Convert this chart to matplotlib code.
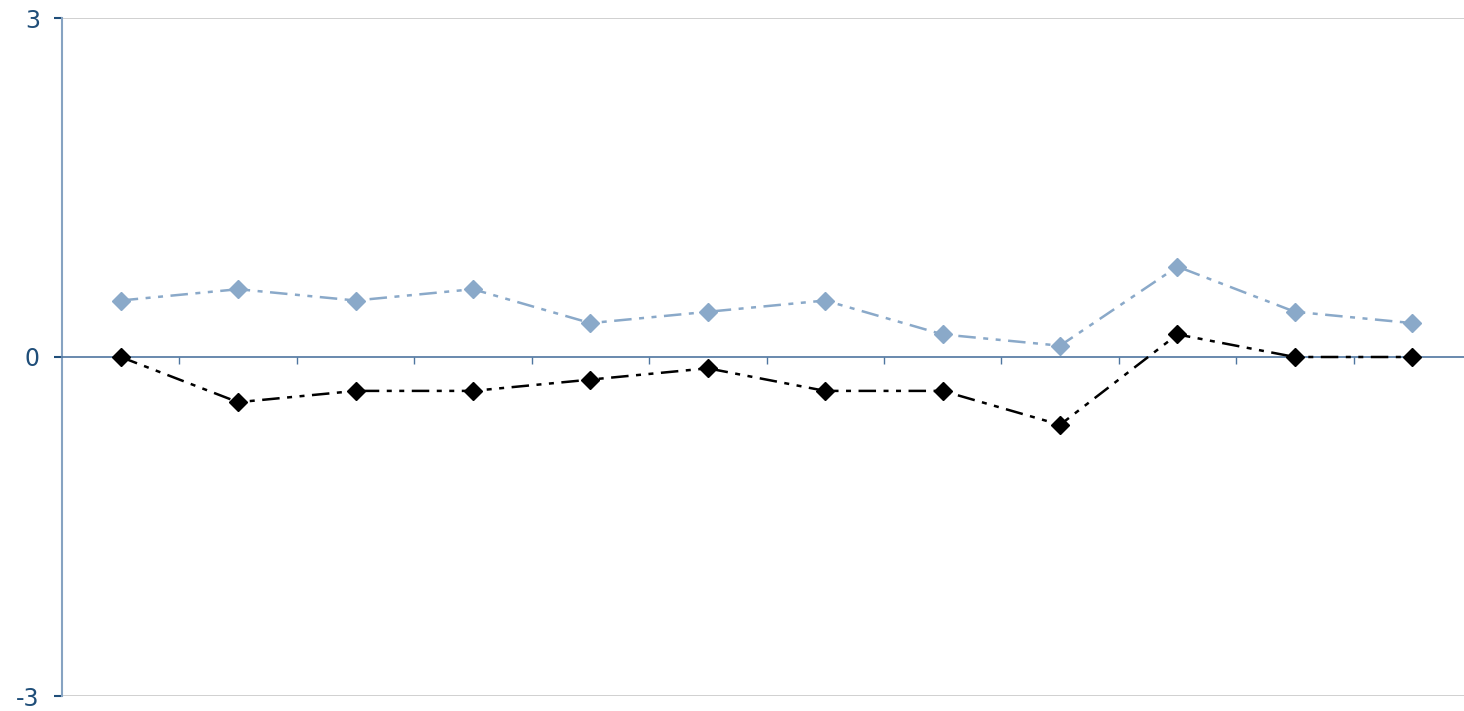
import matplotlib
matplotlib.use("Agg")
import matplotlib.pyplot as plt

positions = list(range(12))
series_light = [0.5, 0.6, 0.5, 0.6, 0.3, 0.4, 0.5, 0.2, 0.1, 0.8, 0.4, 0.3]
series_dark = [0.0, -0.4, -0.3, -0.3, -0.2, -0.1, -0.3, -0.3, -0.6, 0.2, 0.0, 0.0]
y_ticks = [-3, 0, 3]

light_color = "#8aa9c9"
axis_color = "#4f76a0"
label_color = "#1f4e79"
dash = (0, (7, 3, 2, 3, 2, 3))

fig = plt.figure(figsize=(14.64, 7.11), dpi=100)
ax = fig.add_axes([62 / 1464, 15 / 711, 1409 / 1464, 678 / 711])

ax.plot(positions, series_light, color=light_color, linewidth=1.8,
        linestyle=dash, marker="D", markersize=9, zorder=3)
ax.plot(positions, series_dark, color="black", linewidth=1.8,
        linestyle=dash, marker="D", markersize=9, zorder=4)

ax.set_xlim(-0.5, 11.5)
ax.set_ylim(-3, 3)

# horizontal gridlines at the limits
for y in (3, -3):
    ax.axhline(y, color="#c8c8c8", linewidth=1.2, zorder=1)

ax.spines["top"].set_visible(False)
ax.spines["right"].set_visible(False)
ax.spines["bottom"].set_position(("data", 0))
ax.spines["bottom"].set_color(axis_color)
ax.spines["bottom"].set_linewidth(1.2)
ax.spines["left"].set_color("#86a3c2")
ax.spines["left"].set_linewidth(1.5)

ax.set_xticks([p + 0.5 for p in positions])
ax.set_xticklabels([])
ax.tick_params(axis="x", direction="out", length=5, width=1, color=axis_color)

ax.set_yticks(y_ticks)
ax.set_yticklabels([str(t) for t in y_ticks])
ax.tick_params(axis="y", direction="out", length=6, width=1.5, color=label_color,
               labelsize=17, labelcolor=label_color, pad=10)

fig.savefig("out.png", dpi=100)
